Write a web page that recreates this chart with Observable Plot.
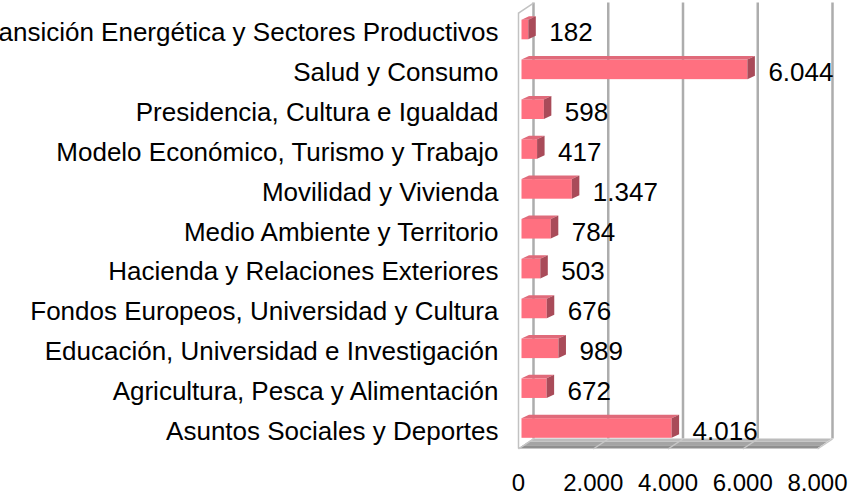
<!DOCTYPE html>
<html>
<head>
<meta charset="utf-8">
<script src="https://cdn.jsdelivr.net/npm/d3@7"></script>
<script src="https://cdn.jsdelivr.net/npm/@observablehq/plot@0.6"></script>
<style>
  html, body { margin: 0; padding: 0; background: #fff; overflow: hidden; }
  #chart svg { display: block; }
</style>
</head>
<body>
<div id="chart"></div>
<script>
// ---- data ----
const categories = [
  "Transición Energética y Sectores Productivos",
  "Salud y Consumo",
  "Presidencia, Cultura e Igualdad",
  "Modelo Económico, Turismo y Trabajo",
  "Movilidad y Vivienda",
  "Medio Ambiente y Territorio",
  "Hacienda y Relaciones Exteriores",
  "Fondos Europeos, Universidad y Cultura",
  "Educación, Universidad e Investigación",
  "Agricultura, Pesca y Alimentación",
  "Asuntos Sociales y Deportes"
];
const values = [182, 6044, 598, 417, 1347, 784, 503, 676, 989, 672, 4016];
const xTicks = [0, 2000, 4000, 6000, 8000];

// ---- layout / style constants (pixels) ----
const W = 852, H = 501;
const LEFT_PX = 518, RIGHT_PX = 817;
const ROW_PX = 39.85, FIRST_ROW_PX = 32.5, FLOOR_PX = 448.5;
const WALL_DX = 15, WALL_DY = 10;      // depth of the 3D box
const BAR_DX = 7.5, BAR_DY = 3.5;      // depth of each bar
const BAR_FRONT_DX = 3.5, BAR_FRONT_DY = -3;
const BAR_H = 19.6;
const FRONT = "#ff7080", TOP = "#e06a7a", SIDE = "#a94b59";

// ---- derived scale helpers ----
const xMax = xTicks[xTicks.length - 1];
const kx = (RIGHT_PX - LEFT_PX) / xMax;           // px per unit
const yBottom = (FLOOR_PX - FIRST_ROW_PX) / ROW_PX; // index value of floor front edge
const marginTop = FIRST_ROW_PX - 0.5 * ROW_PX;
const wdx = WALL_DX / kx, wdy = WALL_DY / ROW_PX;
const bdx = BAR_DX / kx, bdy = BAR_DY / ROW_PX;
const hh = BAR_H / 2 / ROW_PX;

const locale = d3.formatLocale({decimal: ",", thousands: ".", grouping: [3], currency: ["", "€"]});
const fmt = locale.format(",d");

const rows = categories.map((c, i) => ({i, c, v: values[i]}));
const topFace = rows.flatMap(r => [
  {i: r.i, y: r.i - hh, x1: 0, x2: r.v},
  {i: r.i, y: r.i - hh - bdy, x1: bdx, x2: r.v + bdx}
]);
const sideFace = rows.flatMap(r => [
  {i: r.i, x: r.v, y1: r.i + hh, y2: r.i - hh},
  {i: r.i, x: r.v + bdx, y1: r.i + hh - bdy, y2: r.i - hh - bdy}
]);
const floorColors = ["#8f8f8f", "#a4a4a4", "#bcbcbc"];
const floorStrips = floorColors.flatMap((col, k) => {
  const f0 = k / floorColors.length, f1 = (k + 1) / floorColors.length;
  return [
    {k, y: yBottom - f0 * wdy, x1: f0 * wdx, x2: xMax + f0 * wdx},
    {k, y: yBottom - f1 * wdy, x1: f1 * wdx, x2: xMax + f1 * wdx}
  ];
});

const chart = Plot.plot({
  width: W,
  height: H,
  marginLeft: LEFT_PX,
  marginRight: W - RIGHT_PX,
  marginTop: marginTop,
  marginBottom: H - FLOOR_PX,
  style: {fontFamily: "'Liberation Sans', Arial, sans-serif", background: "#fff", color: "#000"},
  x: {domain: [0, xMax]},
  y: {domain: [-0.5, yBottom], reverse: true},
  marks: [
    // back wall gridlines
    Plot.ruleX(xTicks, {x: d => d, y1: -0.5, y2: yBottom, dx: WALL_DX, dy: -WALL_DY, stroke: "#adadad", strokeWidth: 2.5}),
    // left wall edges
    Plot.ruleX([0], {x: d => d, y1: -0.5, y2: yBottom, stroke: "#c2c2c2", strokeWidth: 1.5}),
    Plot.link([0], {x1: 0, y1: -0.5, x2: wdx, y2: -0.5 - wdy, stroke: "#c2c2c2", strokeWidth: 1.5}),
    // floor
    Plot.areaX(floorStrips, {y: "y", x1: "x1", x2: "x2", z: "k", fill: d => floorColors[d.k]}),
    Plot.link(xTicks, {x1: d => d, y1: yBottom, x2: d => d + wdx, y2: yBottom - wdy, stroke: "#c8c8c8", strokeWidth: 1.5}),
    // bars: front, top, side faces
    Plot.rectX(rows, {x1: 0, x2: "v", y1: d => d.i - hh, y2: d => d.i + hh, fill: FRONT, dx: BAR_FRONT_DX, dy: BAR_FRONT_DY}),
    Plot.areaX(topFace, {y: "y", x1: "x1", x2: "x2", z: "i", fill: TOP, dx: BAR_FRONT_DX, dy: BAR_FRONT_DY}),
    Plot.areaY(sideFace, {x: "x", y1: "y1", y2: "y2", z: "i", fill: SIDE, dx: BAR_FRONT_DX, dy: BAR_FRONT_DY}),
    // value labels
    Plot.text(rows, {x: "v", y: "i", text: d => fmt(d.v), textAnchor: "start",
      dx: BAR_FRONT_DX + BAR_DX + 13, fontSize: 26, fill: "#000"}),
    // axes
    Plot.axisY(d3.range(categories.length), {tickFormat: i => categories[i], tickSize: 0, tickPadding: 20, fontSize: 26, fill: "#000"}),
    Plot.axisX(xTicks, {tickFormat: fmt, tickSize: 0, tickPadding: 25, fontSize: 24, fill: "#000"})
  ]
});
document.getElementById("chart").appendChild(chart);
</script>
</body>
</html>
